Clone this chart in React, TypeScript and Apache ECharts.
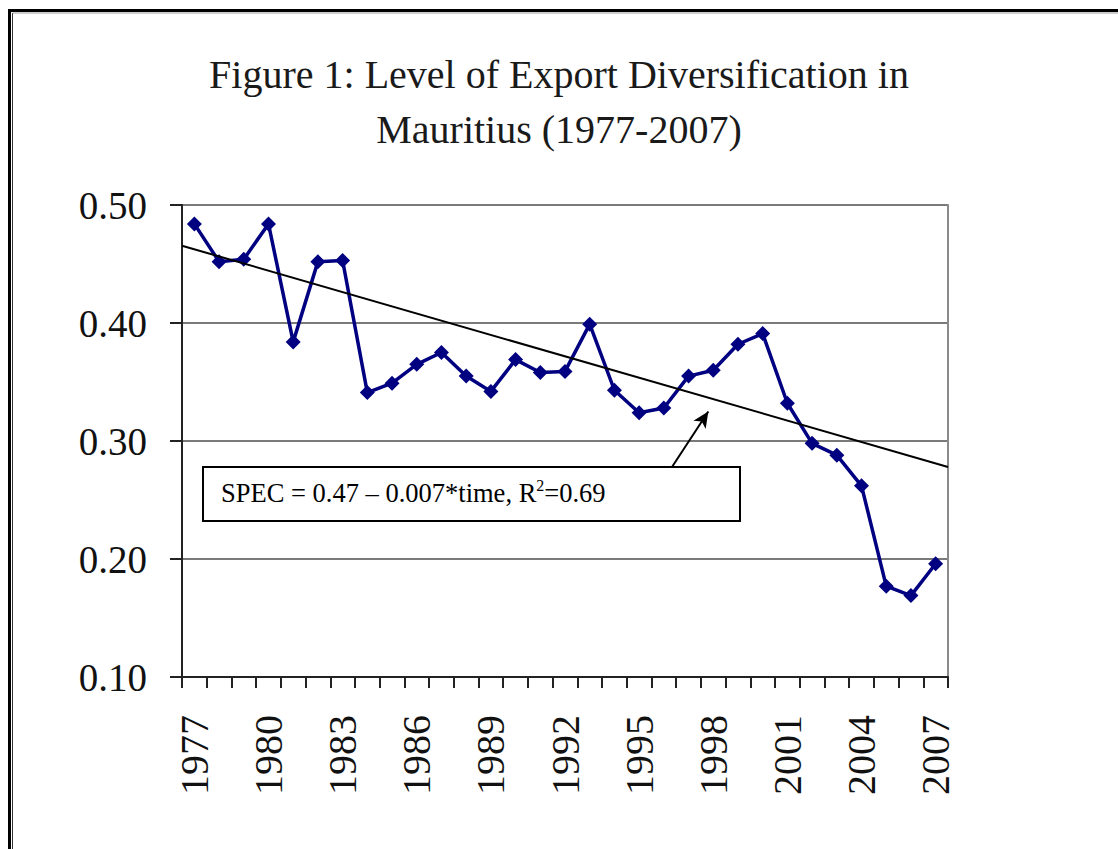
import React, { useEffect, useRef } from "react";
import * as echarts from "echarts";

const years: string[] = [
  "1977","1978","1979","1980","1981","1982","1983","1984","1985","1986",
  "1987","1988","1989","1990","1991","1992","1993","1994","1995","1996",
  "1997","1998","1999","2000","2001","2002","2003","2004","2005","2006","2007",
];
const specValues: number[] = [
  0.484, 0.452, 0.454, 0.484, 0.384, 0.452, 0.453, 0.341, 0.349, 0.365,
  0.375, 0.355, 0.342, 0.369, 0.358, 0.359, 0.399, 0.343, 0.324, 0.328,
  0.355, 0.360, 0.382, 0.391, 0.332, 0.298, 0.288, 0.262, 0.177, 0.169, 0.196,
];
// trend line endpoints on a 0..31 position scale (plot edges)
const trendPoints: [number, number][] = [
  [0, 0.4655],
  [31, 0.278],
];
// arrow from label box to trend line (position scale, value)
const arrowFrom: [number, number] = [19.83, 0.278];
const arrowTo: [number, number] = [21.3, 0.325];
const yTicks = { min: 0.1, max: 0.5, interval: 0.1 };

const SERIF = "'Liberation Serif', 'Times New Roman', serif";

export default function App() {
  const ref = useRef<HTMLDivElement>(null);
  useEffect(() => {
    if (!ref.current) return;
    const chart = echarts.init(ref.current, undefined, { renderer: "svg" });
    const option: any = {
      animation: false,
      backgroundColor: "#ffffff",
      title: {
        text: "Figure 1: Level of Export Diversification in\nMauritius (1977-2007)",
        left: "center",
        top: 42,
        textStyle: {
          fontFamily: SERIF,
          fontSize: 40,
          fontWeight: "normal",
          color: "#1a1a1a",
          lineHeight: 55,
        },
      },
      grid: { left: 182, top: 205, right: 170, bottom: 172, containLabel: false },
      xAxis: [
        {
          type: "category",
          data: years,
          boundaryGap: true,
          axisLine: { show: true, lineStyle: { color: "#222", width: 2 } },
          axisTick: { show: true, interval: 0, length: 11, lineStyle: { color: "#222", width: 2 } },
          axisLabel: {
            interval: 2,
            rotate: 90,
            margin: 38,
            fontFamily: SERIF,
            fontSize: 40,
            color: "#111",
          },
          splitLine: { show: false },
        },
        {
          type: "value",
          min: 0,
          max: 31,
          show: false,
        },
      ],
      yAxis: [
        {
          type: "value",
          min: yTicks.min,
          max: yTicks.max,
          interval: yTicks.interval,
          axisLine: { show: true, lineStyle: { color: "#222", width: 2 } },
          axisTick: { show: true, length: 12, lineStyle: { color: "#222", width: 2 } },
          axisLabel: {
            margin: 35,
            fontFamily: SERIF,
            fontSize: 39,
            color: "#111",
            formatter: (v: number) => v.toFixed(2),
          },
          splitLine: { show: true, lineStyle: { color: "#7a7a7a", width: 2 } },
        },
        {
          type: "value",
          position: "right",
          min: yTicks.min,
          max: yTicks.max,
          interval: yTicks.interval,
          axisLine: { show: true, lineStyle: { color: "#8a8a8a", width: 2 } },
          axisTick: { show: false },
          axisLabel: { show: false },
          splitLine: { show: false },
        },
      ],
      series: [
        {
          type: "line",
          name: "SPEC",
          data: specValues,
          xAxisIndex: 0,
          yAxisIndex: 0,
          symbol: "diamond",
          symbolSize: 15,
          lineStyle: { color: "#000080", width: 3.5 },
          itemStyle: { color: "#000080" },
          z: 3,
        },
        {
          type: "line",
          name: "Trend",
          data: trendPoints,
          xAxisIndex: 1,
          yAxisIndex: 0,
          symbol: "none",
          clip: false,
          lineStyle: { color: "#000", width: 2 },
          z: 4,
          markLine: {
            silent: true,
            symbol: ["none", "arrow"],
            symbolSize: [11, 16],
            label: { show: false },
            lineStyle: { color: "#000", width: 2, type: "solid" },
            data: [
              [
                { coord: arrowFrom },
                { coord: arrowTo },
              ],
            ],
          },
        },
      ],
      graphic: [
        {
          type: "rect",
          shape: { x: 203, y: 467, width: 537, height: 54 },
          style: { fill: "#fff", stroke: "#000", lineWidth: 2 },
          z: 10,
        },
        {
          type: "text",
          x: 221,
          y: 493,
          style: {
            text: "{a|SPEC = 0.47 – 0.007*time, R}{s|2}{a|=0.69}",
            verticalAlign: "middle",
            rich: {
              a: { fontFamily: SERIF, fontSize: 26.5, lineHeight: 32, fill: "#000", verticalAlign: "middle" },
              s: { fontFamily: SERIF, fontSize: 16, lineHeight: 16, fill: "#000", verticalAlign: "top" },
            },
          },
          z: 11,
        },
        // page frame
        { type: "line", shape: { x1: 9.5, y1: 10, x2: 9.5, y2: 849 }, style: { stroke: "#000", lineWidth: 3 }, z: 20 },
        { type: "line", shape: { x1: 8, y1: 10.5, x2: 1118, y2: 10.5 }, style: { stroke: "#000", lineWidth: 3 }, z: 20 },
        { type: "line", shape: { x1: 12.5, y1: 13, x2: 12.5, y2: 849 }, style: { stroke: "#333", lineWidth: 1 }, z: 20 },
        { type: "line", shape: { x1: 12.5, y1: 13, x2: 1118, y2: 13 }, style: { stroke: "#999", lineWidth: 1 }, z: 20 },
      ],
    };
    chart.setOption(option);
    return () => chart.dispose();
  }, []);
  return (
    <div
      ref={ref}
      style={{ position: "fixed", left: 0, top: 0, width: 1118, height: 849, background: "#fff" }}
    />
  );
}
